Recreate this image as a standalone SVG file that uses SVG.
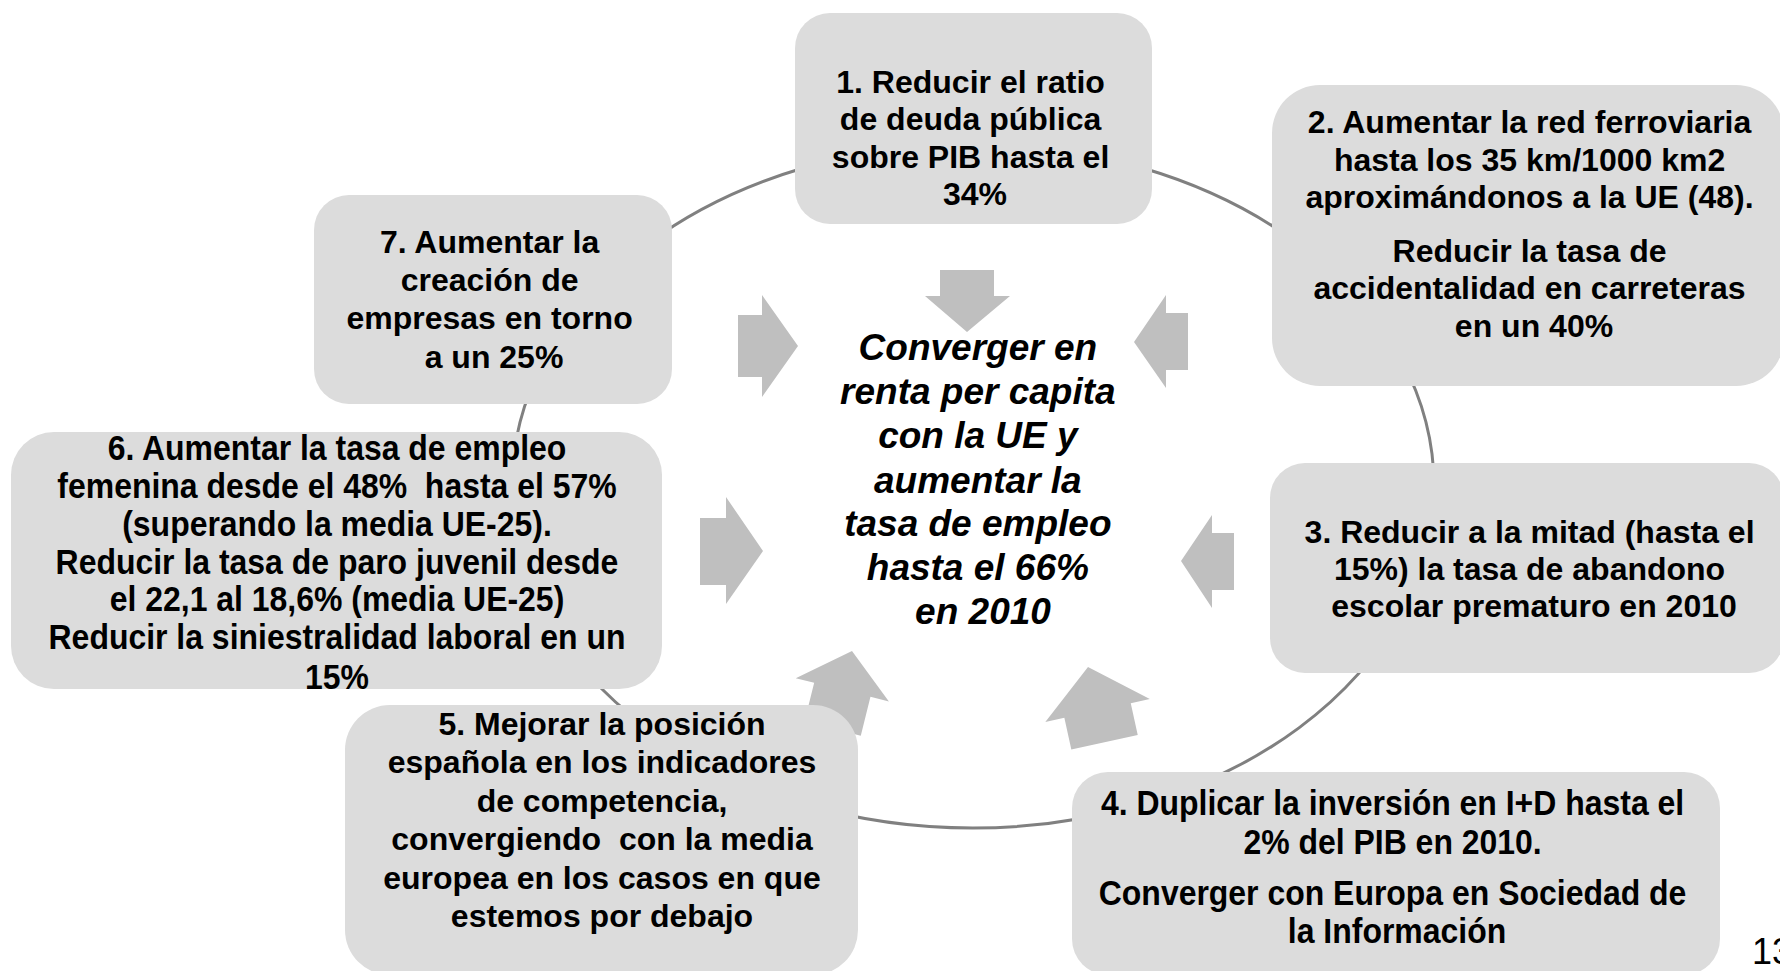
<svg xmlns="http://www.w3.org/2000/svg" width="1780" height="971" viewBox="0 0 1780 971">
<style>
.box{fill:#dcdcdc;stroke:none}
.t{font-family:"Liberation Sans",Arial,sans-serif;font-weight:bold;font-size:32px;fill:#000;text-anchor:middle}
.tn{font-family:"Liberation Sans",Arial,sans-serif;font-weight:bold;font-size:35.5px;fill:#000;text-anchor:middle}
.c{font-family:"Liberation Sans",Arial,sans-serif;font-weight:bold;font-style:italic;font-size:37px;fill:#000;text-anchor:middle}
.arr{fill:#bfbfbf;stroke:none}
.ring{fill:none;stroke:#808080;stroke-width:3}
</style>
<rect width="1780" height="971" fill="#ffffff"/>
<g id="connectors">
  <ellipse class="ring" cx="973" cy="486" rx="461" ry="342"/>
  <polygon class="arr" points="940,270 994,270 994,296 1010,296 967,332 925,296 940,296"/>
  <polygon class="arr" points="738,315 762,315 762,295 798,346 762,397 762,377 738,377"/>
  <polygon class="arr" points="1188,313 1188,370 1166,370 1166,388 1134,342 1166,295 1166,313"/>
  <polygon class="arr" points="700,518 726,518 726,497 763,551 726,604 726,585 700,585"/>
  <polygon class="arr" points="1234,533 1234,590 1212,590 1212,608 1181,561 1212,515 1212,533"/>
  <polygon class="arr" transform="translate(852,651) rotate(14)" points="0,0 48,40 29,40 29,80 -29,80 -29,40 -48,40"/>
  <polygon class="arr" transform="translate(1088,667) rotate(-12.4)" points="0,0 53.5,44.5 34,44.5 34,77 -34,77 -34,44.5 -53.5,44.5"/>
</g>
<g id="center">
  <text class="c">
    <tspan x="983" y="360">Converger en</tspan>
    <tspan x="983" y="404">renta per capita</tspan>
    <tspan x="983" y="448">con la UE y</tspan>
    <tspan x="983" y="493">aumentar la</tspan>
    <tspan x="983" y="536">tasa de empleo</tspan>
    <tspan x="983" y="580">hasta el 66%</tspan>
    <tspan x="983" y="624">en 2010</tspan>
  </text>
</g>
<g id="node1">
  <rect class="box" x="795" y="13" width="357" height="211" rx="35"/>
  <text class="t">
    <tspan x="975" y="93">1. Reducir el ratio</tspan>
    <tspan x="975" y="130">de deuda pública</tspan>
    <tspan x="975" y="168">sobre PIB hasta el</tspan>
    <tspan x="975" y="205">34%</tspan>
  </text>
</g>
<g id="node2">
  <rect class="box" x="1272" y="85" width="512" height="301" rx="48"/>
  <text class="t">
    <tspan x="1534" y="133">2. Aumentar la red ferroviaria</tspan>
    <tspan x="1534" y="171">hasta los 35 km/1000 km2</tspan>
    <tspan x="1534" y="208">aproximándonos a la UE (48).</tspan>
    <tspan x="1534" y="262">Reducir la tasa de</tspan>
    <tspan x="1534" y="299">accidentalidad en carreteras</tspan>
    <tspan x="1534" y="337">en un 40%</tspan>
  </text>
</g>
<g id="node3">
  <rect class="box" x="1270" y="463" width="514" height="210" rx="35"/>
  <text class="t">
    <tspan x="1534" y="543">3. Reducir a la mitad (hasta el</tspan>
    <tspan x="1534" y="580">15%) la tasa de abandono</tspan>
    <tspan x="1534" y="617">escolar prematuro en 2010</tspan>
  </text>
</g>
<g id="node4">
  <rect class="box" x="1072" y="772" width="648" height="203" rx="36"/>
  <text class="tn" transform="translate(1397,0) scale(0.9,1)">
    <tspan x="0" y="815">4. Duplicar la inversión en I+D hasta el</tspan>
    <tspan x="0" y="854">2% del PIB en 2010.</tspan>
    <tspan x="0" y="905">Converger con Europa en Sociedad de</tspan>
    <tspan x="0" y="943">la Información</tspan>
  </text>
</g>
<g id="node5">
  <rect class="box" x="345" y="705" width="513" height="270" rx="45"/>
  <text class="t" xml:space="preserve"><tspan x="602" y="735">5. Mejorar la posición</tspan><tspan x="602" y="773">española en los indicadores</tspan><tspan x="602" y="812">de competencia,</tspan><tspan x="602" y="850">convergiendo  con la media</tspan><tspan x="602" y="889">europea en los casos en que</tspan><tspan x="602" y="927">estemos por debajo</tspan></text>
</g>
<g id="node6">
  <rect class="box" x="11" y="432" width="651" height="257" rx="43"/>
  <text class="tn" transform="translate(337,0) scale(0.9,1)" xml:space="preserve"><tspan x="0" y="460">6. Aumentar la tasa de empleo</tspan><tspan x="0" y="498">femenina desde el 48%  hasta el 57%</tspan><tspan x="0" y="536">(superando la media UE-25).</tspan><tspan x="0" y="574">Reducir la tasa de paro juvenil desde</tspan><tspan x="0" y="611">el 22,1 al 18,6% (media UE-25)</tspan><tspan x="0" y="649">Reducir la siniestralidad laboral en un</tspan><tspan x="0" y="689">15%</tspan></text>
</g>
<g id="node7">
  <rect class="box" x="314" y="195" width="358" height="209" rx="35"/>
  <text class="t">
    <tspan x="494" y="253">7. Aumentar la</tspan>
    <tspan x="494" y="291">creación de</tspan>
    <tspan x="494" y="329">empresas en torno</tspan>
    <tspan x="494" y="368">a un 25%</tspan>
  </text>
</g>
<text x="1752" y="964" style="font-family:'Liberation Sans',Arial,sans-serif;font-size:36px;fill:#000">13</text>
</svg>
